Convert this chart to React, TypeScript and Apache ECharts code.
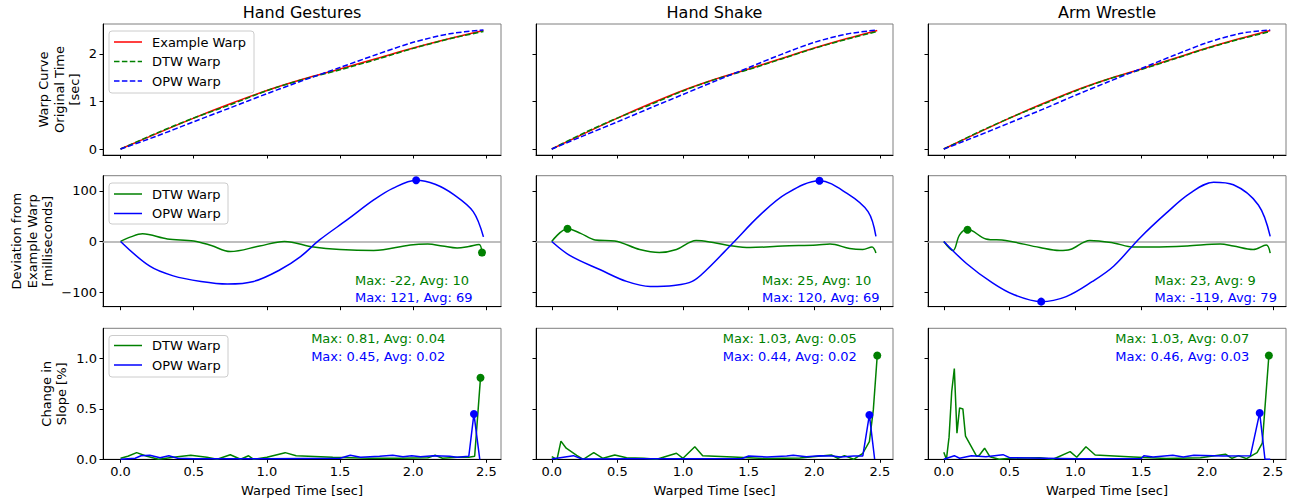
import React, { useEffect, useRef } from "react";
import * as echarts from "echarts";

// ---------- text / ticks ----------
const TITLES = ["Hand Gestures", "Hand Shake", "Arm Wrestle"];
const ROW_LABELS = [
  "Warp Curve\nOriginal Time\n[sec]",
  "Deviation from\nExample Warp\n[milliseconds]",
  "Change in\nSlope [%]",
];
const X_NAME = "Warped Time [sec]";
const X_TICKS = [0, 0.5, 1.0, 1.5, 2.0, 2.5];
const WARP_TICKS = [0, 1, 2];
const DEV_TICKS = [-100, 0, 100];
const SLOPE_TICKS = [0, 0.5, 1.0];
const TOP_LEGEND = ["Example Warp", "DTW Warp", "OPW Warp"];
const LOW_LEGEND = ["DTW Warp", "OPW Warp"];

// ---------- row 1: warp curves (original time, sec) ----------
const WARP_X = [0, 0.25, 0.5, 0.75, 1.0, 1.25, 1.5, 1.75, 2.0, 2.25, 2.48];
const EXAMPLE_WARP = [0, 0.33, 0.65, 0.95, 1.23, 1.47, 1.68, 1.9, 2.12, 2.32, 2.49];
const DTW_WARP_HG = [0, 0.34, 0.651, 0.93, 1.225, 1.464, 1.664, 1.882, 2.113, 2.315, 2.468];
const OPW_WARP_HG = [0, 0.275, 0.573, 0.866, 1.162, 1.443, 1.713, 1.985, 2.24, 2.42, 2.5];
const DTW_WARP_HS = [0, 0.343, 0.65, 0.93, 1.22, 1.467, 1.668, 1.891, 2.113, 2.307, 2.467];
const OPW_WARP_HS = [0, 0.288, 0.57, 0.861, 1.146, 1.432, 1.71, 1.988, 2.239, 2.415, 2.5];
const DTW_WARP_AW = [0, 0.338, 0.651, 0.937, 1.22, 1.468, 1.669, 1.89, 2.114, 2.308, 2.467];
const OPW_WARP_AW = [0, 0.27, 0.55, 0.832, 1.129, 1.412, 1.69, 1.968, 2.232, 2.425, 2.5];

// ---------- row 2: deviation from example warp (ms) ----------
const DEV_DTW_HG_X = [0, 0.07, 0.15, 0.32, 0.5, 0.62, 0.75, 0.95, 1.12, 1.32, 1.5, 1.73, 1.98, 2.1, 2.2, 2.3, 2.38, 2.45, 2.47];
const DEV_DTW_HG = [0, 9, 15, 5, 1, -8, -20, -9, 0, -11, -16, -18, -7, -5, -9, -13, -10, -6, -22];
const DEV_OPW_HG_X = [0, 0.2, 0.36, 0.55, 0.73, 0.91, 1.09, 1.23, 1.36, 1.55, 1.73, 1.86, 2.02, 2.15, 2.28, 2.41, 2.48];
const DEV_OPW_HG = [0, -49, -68, -79, -84, -79, -56, -30, 3, 43, 82, 105, 121, 113, 92, 59, 9];

const DEV_DTW_HS_X = [0, 0.12, 0.22, 0.33, 0.48, 0.67, 0.82, 0.95, 1.1, 1.23, 1.38, 1.51, 1.76, 2.02, 2.12, 2.27, 2.37, 2.44, 2.47];
const DEV_DTW_HS = [0, 25, 16, 3, 1, -16, -22, -16, 2, -2, -9, -12, -9, -7, -5, -14, -16, -11, -23];
const DEV_OPW_HS_X = [0, 0.14, 0.37, 0.57, 0.75, 0.93, 1.07, 1.18, 1.38, 1.59, 1.79, 2.04, 2.25, 2.41, 2.47];
const DEV_OPW_HS = [0, -28, -56, -79, -89, -87, -79, -56, -3, 53, 95, 120, 95, 59, 10];

const DEV_DTW_AW_X = [0, 0.07, 0.12, 0.18, 0.32, 0.47, 0.73, 0.88, 0.96, 1.11, 1.29, 1.44, 1.59, 1.85, 2.1, 2.2, 2.35, 2.45, 2.48];
const DEV_DTW_AW = [0, -18, 13, 24, 5, 2, -12, -18, -16, 2, -3, -11, -11, -9, -5, -9, -16, -7, -23];
const DEV_OPW_AW_X = [0, 0.17, 0.37, 0.53, 0.74, 0.93, 1.13, 1.29, 1.49, 1.69, 1.87, 2.05, 2.2, 2.39, 2.48];
const DEV_OPW_AW = [0, -43, -82, -105, -119, -109, -79, -49, 7, 56, 95, 117, 112, 72, 10];

// marked extreme points [x, y] : [dtw, opw]
const DEV_MARKS_HG = [[2.47, -22], [2.02, 121]];
const DEV_MARKS_HS = [[0.12, 25], [2.04, 120]];
const DEV_MARKS_AW = [[0.18, 23], [0.74, -119]];

const DEV_NOTES = [
  ["Max: -22, Avg: 10", "Max: 121, Avg: 69"],
  ["Max: 25, Avg: 10", "Max: 120, Avg: 69"],
  ["Max: 23, Avg: 9", "Max: -119, Avg: 79"],
];

// ---------- row 3: change in slope (%) ----------
const SLOPE_DTW_HG_X = [0, 0.05, 0.11, 0.18, 0.26, 0.36, 0.48, 0.59, 0.66, 0.75, 0.82, 0.875, 0.91, 1.0, 1.125, 1.2, 1.45, 1.7, 1.9, 2.1, 2.15, 2.2, 2.3, 2.38, 2.42, 2.46];
const SLOPE_DTW_HG = [0.01, 0.03, 0.066, 0.03, 0, 0.02, 0.04, 0.02, 0, 0.045, 0, 0.035, 0, 0.02, 0.066, 0.035, 0.02, 0.01, 0.01, 0.015, 0.04, 0.01, 0.02, 0.02, 0.03, 0.81];
const SLOPE_OPW_HG_X = [0, 0.1, 0.14, 0.2, 0.27, 0.33, 0.39, 0.5, 1.0, 1.5, 1.57, 1.64, 1.77, 1.86, 1.93, 1.99, 2.05, 2.14, 2.25, 2.3, 2.38, 2.415, 2.455];
const SLOPE_OPW_HG = [0, 0.01, 0.035, 0.04, 0.015, 0.035, 0.01, 0.005, 0.005, 0.01, 0.04, 0.02, 0.03, 0.04, 0.025, 0.035, 0.025, 0.035, 0.03, 0.02, 0.03, 0.45, 0];

const SLOPE_DTW_HS_X = [0, 0.04, 0.07, 0.11, 0.19, 0.24, 0.32, 0.39, 0.48, 0.57, 0.7, 0.8, 0.95, 1.0, 1.09, 1.15, 1.38, 1.64, 1.89, 2.13, 2.18, 2.23, 2.3, 2.37, 2.42, 2.45, 2.48];
const SLOPE_DTW_HS = [0.026, 0, 0.18, 0.11, 0.04, 0, 0.066, 0.01, 0.043, 0.016, 0.01, 0, 0.06, 0.01, 0.125, 0.036, 0.023, 0.007, 0.013, 0.043, 0.01, 0.036, 0, 0.06, 0.175, 0.49, 1.03];
const SLOPE_OPW_HS_X = [0, 0.165, 0.23, 0.6, 1.0, 1.45, 1.5, 1.64, 1.79, 1.84, 1.94, 2.04, 2.14, 2.2, 2.3, 2.37, 2.42, 2.46];
const SLOPE_OPW_HS = [0.003, 0.036, 0.003, 0.005, 0.005, 0.008, 0.033, 0.023, 0.033, 0.04, 0.026, 0.036, 0.033, 0.023, 0.033, 0.033, 0.44, 0.003];

const SLOPE_DTW_AW_X = [0, 0.02, 0.04, 0.06, 0.08, 0.1, 0.12, 0.145, 0.165, 0.25, 0.27, 0.31, 0.35, 0.42, 0.5, 0.73, 0.83, 0.96, 1.01, 1.08, 1.15, 1.44, 1.69, 1.95, 2.14, 2.19, 2.24, 2.3, 2.38, 2.42, 2.47];
const SLOPE_DTW_AW = [0.07, 0, 0.22, 0.67, 0.9, 0.26, 0.51, 0.5, 0.23, 0.03, 0.04, 0.11, 0.026, 0, 0.01, 0.016, 0, 0.076, 0.02, 0.125, 0.043, 0.023, 0.007, 0.016, 0.05, 0.01, 0.036, 0.007, 0.066, 0.16, 1.03];
const SLOPE_OPW_AW_X = [0, 0.08, 0.12, 0.21, 0.32, 0.45, 0.5, 1.0, 1.5, 1.52, 1.59, 1.74, 1.82, 1.9, 2.12, 2.33, 2.4, 2.44, 2.48];
const SLOPE_OPW_AW = [0, 0.036, 0.01, 0.036, 0.026, 0.046, 0.016, 0.005, 0.008, 0.036, 0.023, 0.04, 0.023, 0.04, 0.033, 0.036, 0.46, 0.003, 0];

const SLOPE_MARKS_HG = [[2.46, 0.81], [2.415, 0.45]];
const SLOPE_MARKS_HS = [[2.48, 1.03], [2.42, 0.44]];
const SLOPE_MARKS_AW = [[2.47, 1.03], [2.4, 0.46]];

const SLOPE_NOTES = [
  ["Max: 0.81, Avg: 0.04", "Max: 0.45, Avg: 0.02"],
  ["Max: 1.03, Avg: 0.05", "Max: 0.44, Avg: 0.02"],
  ["Max: 1.03, Avg: 0.07", "Max: 0.46, Avg: 0.03"],
];

// ---------- styling / layout ----------
const RED = "#ff0000";
const GREEN = "#008000";
const BLUE = "#0000ff";
const FONT = '"DejaVu Sans", "Liberation Sans", sans-serif';
const COLS = [
  { left: 103, width: 398 },
  { left: 536, width: 357 },
  { left: 928, width: 358 },
];
const ROWS = [
  { top: 24, height: 131 },
  { top: 175.7, height: 131 },
  { top: 328.3, height: 131 },
];

const pts = (xs: number[], ys: number[]) => xs.map((x, i) => [x, ys[i]]);

export default function App() {
  const ref = useRef<HTMLDivElement>(null);

  useEffect(() => {
    document.body.style.margin = "0";
    const chart = echarts.init(ref.current!, null, { renderer: "svg" });

    const warpDTW = [DTW_WARP_HG, DTW_WARP_HS, DTW_WARP_AW];
    const warpOPW = [OPW_WARP_HG, OPW_WARP_HS, OPW_WARP_AW];
    const devDTW = [pts(DEV_DTW_HG_X, DEV_DTW_HG), pts(DEV_DTW_HS_X, DEV_DTW_HS), pts(DEV_DTW_AW_X, DEV_DTW_AW)];
    const devOPW = [pts(DEV_OPW_HG_X, DEV_OPW_HG), pts(DEV_OPW_HS_X, DEV_OPW_HS), pts(DEV_OPW_AW_X, DEV_OPW_AW)];
    const devMarks = [DEV_MARKS_HG, DEV_MARKS_HS, DEV_MARKS_AW];
    const slDTW = [pts(SLOPE_DTW_HG_X, SLOPE_DTW_HG), pts(SLOPE_DTW_HS_X, SLOPE_DTW_HS), pts(SLOPE_DTW_AW_X, SLOPE_DTW_AW)];
    const slOPW = [pts(SLOPE_OPW_HG_X, SLOPE_OPW_HG), pts(SLOPE_OPW_HS_X, SLOPE_OPW_HS), pts(SLOPE_OPW_AW_X, SLOPE_OPW_AW)];
    const slMarks = [SLOPE_MARKS_HG, SLOPE_MARKS_HS, SLOPE_MARKS_AW];

    const grids: any[] = [];
    const xAxes: any[] = [];
    const yAxes: any[] = [];
    const series: any[] = [];
    const graphics: any[] = [];

    const tickLabel = { fontSize: 13, fontFamily: FONT, color: "#000" };
    const yRanges = [
      { min: -0.125, max: 2.625, ticks: WARP_TICKS, fmt: (v: number) => String(v) },
      { min: -129, max: 130, ticks: DEV_TICKS, fmt: (v: number) => (v < 0 ? "\u2212" + Math.abs(v) : String(v)) },
      { min: 0, max: 1.3, ticks: SLOPE_TICKS, fmt: (v: number) => v.toFixed(1) },
    ];

    const line = (name: string, gi: number, data: any[], color: string, dashed: boolean, smooth: number | boolean, z = 2) => ({
      type: "line",
      name,
      xAxisIndex: gi,
      yAxisIndex: gi,
      data,
      smooth,
      symbol: "none",
      showSymbol: false,
      silent: true,
      z,
      lineStyle: { color, width: 1.5, type: dashed ? [5.5, 2.4] : "solid" },
      itemStyle: { color },
      emphasis: { disabled: true },
    });
    const dots = (gi: number, p: number[], color: string) => ({
      type: "scatter",
      xAxisIndex: gi,
      yAxisIndex: gi,
      data: [p],
      symbol: "circle",
      symbolSize: 8,
      silent: true,
      z: 5,
      itemStyle: { color, opacity: 1 },
      emphasis: { disabled: true },
    });

    for (let r = 0; r < 3; r++) {
      for (let c = 0; c < 3; c++) {
        const gi = r * 3 + c;
        const g = { ...COLS[c], ...ROWS[r] };
        grids.push({
          left: g.left,
          top: g.top,
          width: g.width,
          height: g.height,
          show: true,
          borderColor: "#7f7f7f",
          borderWidth: 1,
          backgroundColor: "transparent",
          containLabel: false,
          outerBoundsMode: "none",
        });
        xAxes.push({
          type: "value",
          gridIndex: gi,
          min: -0.12,
          max: 2.6,
          axisLine: { show: true, onZero: false, lineStyle: { color: "#000", width: 1 } },
          axisTick: { show: true, length: 3.5, customValues: X_TICKS, lineStyle: { color: "#000", width: 1 } },
          axisLabel: {
            show: r === 2,
            customValues: X_TICKS,
            formatter: (v: number) => v.toFixed(1),
            margin: 6,
            ...tickLabel,
          },
          splitLine: { show: false },
          name: r === 2 ? X_NAME : "",
          nameLocation: "middle",
          nameGap: 25,
          nameTextStyle: { fontSize: 13, fontFamily: FONT, color: "#000" },
        });
        const yr = yRanges[r];
        yAxes.push({
          type: "value",
          gridIndex: gi,
          min: yr.min,
          max: yr.max,
          axisLine: { show: true, onZero: false, lineStyle: { color: "#000", width: 1 } },
          axisTick: { show: true, length: 3.5, customValues: yr.ticks, lineStyle: { color: "#000", width: 1 } },
          axisLabel: {
            show: c === 0,
            customValues: yr.ticks,
            formatter: yr.fmt,
            margin: 6,
            ...tickLabel,
          },
          splitLine: { show: false },
        });

        if (r === 0) {
          series.push(line("Example Warp", gi, pts(WARP_X, EXAMPLE_WARP), RED, false, 0.3));
          series.push(line("DTW Warp", gi, pts(WARP_X, warpDTW[c]), GREEN, true, 0.3, 3));
          series.push(line("OPW Warp", gi, pts(WARP_X, warpOPW[c]), BLUE, true, 0.3, 4));
        } else if (r === 1) {
          const s = line("DTW Warp", gi, devDTW[c], GREEN, false, 0.35, 3);
          (s as any).markLine = {
            silent: true,
            symbol: "none",
            label: { show: false },
            lineStyle: { color: "#a8a8a8", width: 1.5, type: "solid" },
            data: [{ yAxis: 0 }],
            z: 1,
          };
          series.push(s);
          series.push(line("OPW Warp", gi, devOPW[c], BLUE, false, 0.35, 4));
          series.push(dots(gi, devMarks[c][0], GREEN));
          series.push(dots(gi, devMarks[c][1], BLUE));
          const nx = g.left + 0.633 * g.width;
          graphics.push({ type: "text", x: nx, y: 280, z: 10, style: { text: DEV_NOTES[c][0], fill: GREEN, font: `13px ${FONT}`, textAlign: "left", textVerticalAlign: "middle" } });
          graphics.push({ type: "text", x: nx, y: 297, z: 10, style: { text: DEV_NOTES[c][1], fill: BLUE, font: `13px ${FONT}`, textAlign: "left", textVerticalAlign: "middle" } });
        } else {
          series.push(line("DTW Warp", gi, slDTW[c], GREEN, false, false, 3));
          series.push(line("OPW Warp", gi, slOPW[c], BLUE, false, false, 4));
          series.push(dots(gi, slMarks[c][0], GREEN));
          series.push(dots(gi, slMarks[c][1], BLUE));
          const nx = g.left + 0.523 * g.width;
          graphics.push({ type: "text", x: nx, y: 338.3, z: 10, style: { text: SLOPE_NOTES[c][0], fill: GREEN, font: `13px ${FONT}`, textAlign: "left", textVerticalAlign: "middle" } });
          graphics.push({ type: "text", x: nx, y: 356.7, z: 10, style: { text: SLOPE_NOTES[c][1], fill: BLUE, font: `13px ${FONT}`, textAlign: "left", textVerticalAlign: "middle" } });
        }
      }
    }

    // column titles
    COLS.forEach((col, c) => {
      graphics.push({
        type: "text",
        x: col.left + col.width / 2,
        y: 12,
        style: { text: TITLES[c], fill: "#000", font: `16px ${FONT}`, textAlign: "center", textVerticalAlign: "middle" },
      });
    });

    // row labels (rotated)
    const labelPos = [
      { x: 59, y: 89.5 },
      { x: 32, y: 241.2 },
      { x: 54, y: 393.8 },
    ];
    ROW_LABELS.forEach((t, r) => {
      graphics.push({
        type: "text",
        x: labelPos[r].x,
        y: labelPos[r].y,
        rotation: Math.PI / 2,
        style: { text: t, fill: "#000", font: `13px ${FONT}`, lineHeight: 15.5, textAlign: "center", textVerticalAlign: "middle" },
      });
    });

    // legends (first column)
    const legendBox = (x: number, y: number, w: number, h: number, names: string[], colors: string[], dashes: boolean[], ys: number[]) => {
      graphics.push({
        type: "rect",
        shape: { x, y, width: w, height: h, r: 3 },
        z: 20,
        style: { fill: "rgba(255,255,255,0.85)", stroke: "#cccccc", lineWidth: 1 },
      });
      names.forEach((n, i) => {
        graphics.push({
          type: "line",
          z: 21,
          shape: { x1: x + 5, y1: ys[i], x2: x + 33, y2: ys[i] },
          style: { stroke: colors[i], lineWidth: 1.5, lineDash: dashes[i] ? [5.5, 2.4] : null },
        });
        graphics.push({
          type: "text",
          z: 21,
          x: x + 43,
          y: ys[i],
          style: { text: n, fill: "#000", font: `13px ${FONT}`, textAlign: "left", textVerticalAlign: "middle" },
        });
      });
    };
    legendBox(109, 31, 145, 62, TOP_LEGEND, [RED, GREEN, BLUE], [false, true, true], [42, 61.5, 81]);
    legendBox(109, 183, 119, 41, LOW_LEGEND, [GREEN, BLUE], [false, false], [194, 213.5]);
    legendBox(109, 335.5, 119, 41.5, LOW_LEGEND, [GREEN, BLUE], [false, false], [345.5, 365]);

    chart.setOption({
      animation: false,
      backgroundColor: "#ffffff",
      textStyle: { fontFamily: FONT },
      grid: grids,
      xAxis: xAxes,
      yAxis: yAxes,
      series,
      graphic: graphics,
    });

    return () => chart.dispose();
  }, []);

  return <div ref={ref} style={{ width: 1294, height: 504 }} />;
}
